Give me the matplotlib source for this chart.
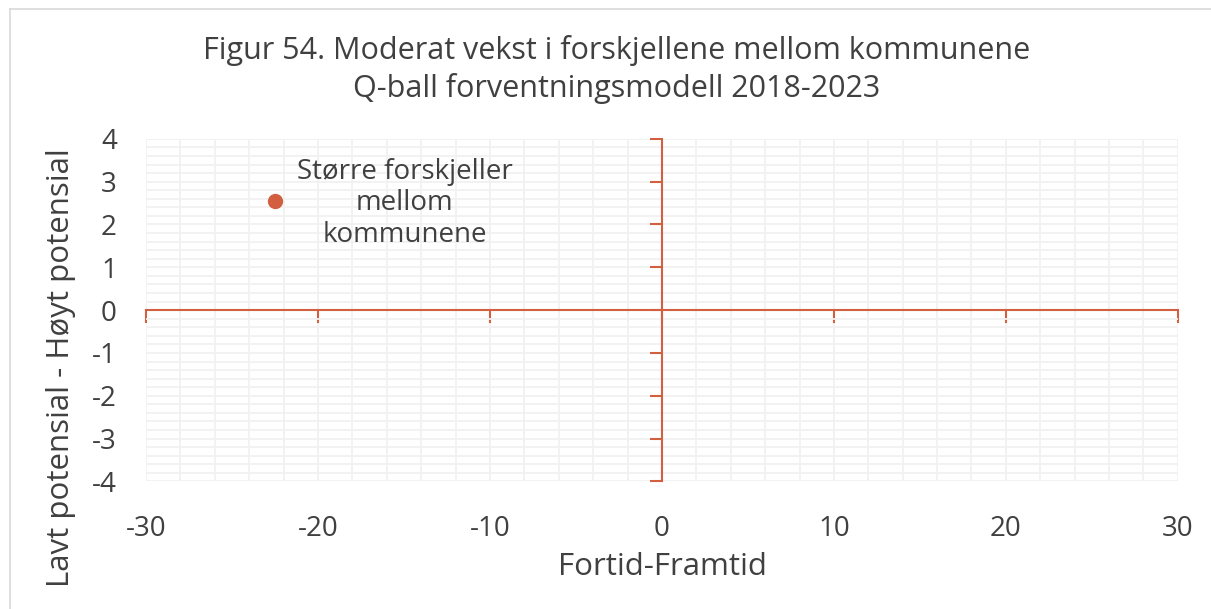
import matplotlib.pyplot as plt
from matplotlib.lines import Line2D
from matplotlib.ticker import MultipleLocator

# Q-ball forventningsmodell: ett punkt i diagrammet
x_vals = [-22.5]
y_vals = [2.55]
point_label = "Større forskjeller\nmellom\nkommunene"

x_ticks = [-30, -20, -10, 0, 10, 20, 30]
y_ticks = [-4, -3, -2, -1, 0, 1, 2, 3, 4]

title = "Figur 54. Moderat vekst i forskjellene mellom kommunene\nQ-ball forventningsmodell 2018-2023"
xlabel = "Fortid-Framtid"
ylabel = "Lavt potensial - Høyt potensial"

red = "#d35f41"
text_col = "#404040"
grid_col = "#f1f1f1"

plt.rcParams['font.family'] = ['Open Sans', 'DejaVu Sans']
plt.rcParams['axes.unicode_minus'] = False

fig = plt.figure(figsize=(12.11, 6.09), dpi=100)
ax = fig.add_axes([0.1206, 0.2095, 0.852, 0.5625])

# light frame along top and left edge
frame_kw = dict(transform=fig.transFigure, color="#d9d9d9", linewidth=1.2)
fig.lines.append(Line2D([10 / 1211, 10 / 1211], [0, 1 - 9 / 609], **frame_kw))
fig.lines.append(Line2D([10 / 1211, 1], [1 - 9 / 609, 1 - 9 / 609], **frame_kw))

ax.plot(x_vals, y_vals, 'o', color=red, markersize=10, zorder=5)
ax.text(x_vals[0] + 7.55, y_vals[0] - 0.05, point_label, ha='center', va='center',
        fontsize=20, color=text_col, linespacing=1.17)

ax.set_xlim(x_ticks[0], x_ticks[-1])
ax.set_ylim(y_ticks[0], y_ticks[-1])
ax.set_xticks(x_ticks)
ax.set_yticks(y_ticks)
ax.xaxis.set_minor_locator(MultipleLocator(2))
ax.yaxis.set_minor_locator(MultipleLocator(0.2))
ax.grid(which='both', color=grid_col, linewidth=1.3, zorder=0)
ax.set_axisbelow(True)

# axis lines cross at origin
for s in ['top', 'right']:
    ax.spines[s].set_visible(False)
ax.spines['left'].set_position(('data', 0))
ax.spines['bottom'].set_position(('data', 0))
for s in ['left', 'bottom']:
    ax.spines[s].set_color(red)
    ax.spines[s].set_linewidth(1.5)
ax.tick_params(which='major', direction='out', length=9, width=1.5, color=red,
               labelleft=False, labelbottom=False)
ax.tick_params(which='minor', length=0)

# tick labels at the outer edges
sx = ax.secondary_xaxis('bottom')
sx.set_xticks(x_ticks)
sx.spines['bottom'].set_visible(False)
sx.tick_params(length=0, pad=24, labelsize=20, labelcolor=text_col)
sy = ax.secondary_yaxis('left')
sy.set_yticks(y_ticks)
sy.spines['left'].set_visible(False)
sy.tick_params(length=0, pad=21, labelsize=20, labelcolor=text_col)

fig.text(0.509, 0.886, title, ha='center', va='center', fontsize=22, color=text_col,
         linespacing=1.3)
fig.text(0.547, 0.069, xlabel, ha='center', va='center', fontsize=22.5, color=text_col)
fig.text(0.05, 0.397, ylabel, ha='center', va='center', rotation=90, fontsize=22.5,
         color=text_col)

fig.savefig("out.png", dpi=100)
